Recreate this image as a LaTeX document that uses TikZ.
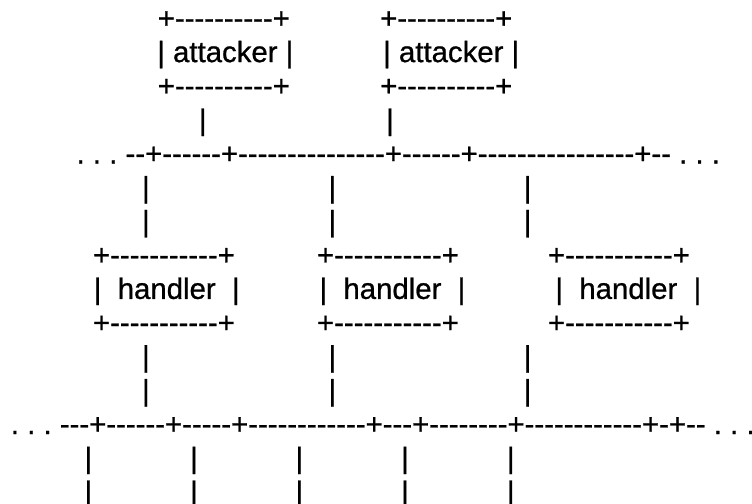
\documentclass[tikz,border=0pt]{standalone}
\usepackage{fontspec}
\newfontfamily\asc{Liberation Sans}[Ligatures=TeXOff,FakeBold=0.8]
\begin{document}
\frenchspacing
\begin{tikzpicture}[x=1bp,y=1bp,
  txt/.style={anchor=base west, inner sep=0pt, outer sep=0pt,
    font=\asc\frenchspacing\fontsize{29.37bp}{33.82bp}\selectfont}]
\useasboundingbox (0,0) rectangle (752,-504);
% attackers
\node[txt] (a1t) at (157.8,-28.3) {+----------+};
\node[txt] (a2t) at (380.2,-28.3) {+----------+};
\node[txt] (a1m) at (157.3,-62.1) {| attacker |};
\node[txt] (a2m) at (383.2,-62.1) {| attacker |};
\node[txt] (a1b) at (157.8,-95.9) {+----------+};
\node[txt] (a2b) at (380.2,-95.9) {+----------+};
\node[txt] (a1p) at (198.9,-129.8) {|};
\node[txt] (a2p) at (386.2,-129.8) {|};
% upper bus
\node[txt] (bus1) at (76.6,-163.6) {. . . --+------+---------------+------+----------------+-- . . .};
\foreach \x [count=\i] in {142,328.5,523.8}{
  \node[txt] (u1-\i) at (\x,-197.4) {|};
  \node[txt] (u2-\i) at (\x,-231.2) {|};
}
% handlers
\foreach \x/\t [count=\i] in {93/93.8,317/319.5,548/555.4}{
  \node[txt] (h\i t) at (\x,-265.0) {+-----------+};
  \node[txt] (h\i m) at (\t,-298.9) {|\ \ handler\ \ |};
  \node[txt] (h\i b) at (\x,-332.7) {+-----------+};
}
\foreach \x [count=\i] in {142,328.5,523.8}{
  \node[txt] (l1-\i) at (\x,-366.5) {|};
  \node[txt] (l2-\i) at (\x,-400.3) {|};
}
% lower bus
\node[txt] (bus2) at (10.9,-434.1) {. . . ---+------+-----+------------+---+--------+------------+-+-- . . .};
\foreach \x [count=\i] in {84.5,190.2,295.5,401.2,506.9}{
  \node[txt] (d1-\i) at (\x,-467.9) {|};
  \node[txt] (d2-\i) at (\x,-501.8) {|};
}
\end{tikzpicture}
\end{document}
